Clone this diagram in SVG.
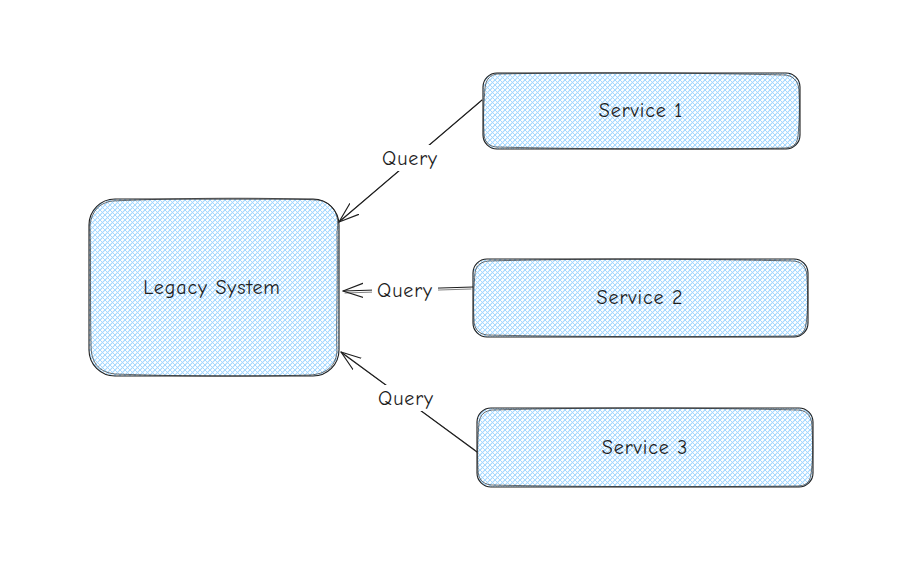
<svg xmlns="http://www.w3.org/2000/svg" width="899" height="568" viewBox="0 0 899 568">
<defs>
<pattern id="hatch" patternUnits="userSpaceOnUse" width="5" height="5">
<path d="M-1,1 L1,-1 M0,5 L5,0 M4,6 L6,4" stroke="#a5d8ff" stroke-width="1.2"/>
<path d="M-1,4 L1,6 M0,0 L5,5 M4,-1 L6,1" stroke="#a5d8ff" stroke-width="1"/>
</pattern>
<marker id="arrow" viewBox="0 0 22 20" refX="20" refY="10" markerWidth="22" markerHeight="20" markerUnits="userSpaceOnUse" orient="auto">
<path d="M0,3 L20,10 L0,17" fill="none" stroke="#1e1e1e" stroke-width="1.2" stroke-linecap="round" stroke-linejoin="round"/>
</marker>
<style>
.fill{fill:url(#hatch);stroke:none}
.out{fill:none;stroke:#1e1e1e;stroke-width:1.1;stroke-linecap:round}
.out2{fill:none;stroke:#1e1e1e;stroke-width:0.8;opacity:0.8}
.lbl{font-family:"Comic Neue","Noto Sans","DejaVu Sans",sans-serif;font-size:20px;letter-spacing:0.9px;fill:#1e1e1e;text-anchor:middle;dominant-baseline:central}
.conn{fill:none;stroke:#1e1e1e;stroke-width:1.1;stroke-linecap:round}
.conn2{fill:none;stroke:#1e1e1e;stroke-width:0.8;opacity:0.7;stroke-linecap:round}
.bg{fill:#ffffff}
</style>
</defs>
<rect width="899" height="568" fill="#ffffff"/>

<g id="connectors">
<g id="c1">
<line class="conn" x1="482" y1="100" x2="339" y2="222" marker-end="url(#arrow)"/>
<line class="conn2" x1="480" y1="102" x2="341" y2="220"/>
</g>
<g id="c2">
<line class="conn" x1="473" y1="287" x2="343" y2="291" marker-end="url(#arrow)"/>
<line class="conn2" x1="471" y1="289" x2="345" y2="293"/>
</g>
<g id="c3">
<line class="conn" x1="477" y1="452" x2="341" y2="352" marker-end="url(#arrow)"/>
<line class="conn2" x1="475" y1="450" x2="343" y2="354"/>
</g>
<rect class="bg" x="376" y="145" width="68" height="26"/>
<text class="lbl" x="410" y="158">Query</text>
<rect class="bg" x="372" y="277" width="66" height="26"/>
<text class="lbl" x="405" y="290">Query</text>
<rect class="bg" x="372" y="385" width="68" height="26"/>
<text class="lbl" x="406" y="398">Query</text>
</g>

<g id="legacy">
<rect class="fill" x="89" y="199" width="250" height="177" rx="26"/>
<rect class="out" x="89" y="199" width="250" height="177" rx="26"/>
<path class="out2" d="M112,201 C180,198 260,197 318,200 C334,203 340,215 337,232 C338,280 336,330 337,352 C335,368 325,374 310,375 C240,377 170,376 115,374 C98,372 91,362 91,345 C90,300 91,260 90,225 C92,210 100,203 112,201 Z"/>
<text class="lbl" x="212" y="287">Legacy System</text>
</g>

<g id="service1">
<rect class="fill" x="483" y="73" width="317" height="76" rx="14"/>
<rect class="out" x="483" y="73" width="317" height="76" rx="14"/>
<path class="out2" d="M497,74 C600,72 700,73 786,75 C796,77 799,84 799,92 C800,110 799,125 798,136 C797,145 792,148 784,148 C700,150 580,149 496,147 C488,146 484,141 484,133 C483,115 484,100 485,88 C486,79 490,75 497,74 Z"/>
<text class="lbl" x="641" y="110">Service 1</text>
</g>

<g id="service2">
<rect class="fill" x="473" y="259" width="335" height="78" rx="14"/>
<rect class="out" x="473" y="259" width="335" height="78" rx="14"/>
<path class="out2" d="M488,261 C600,258 710,259 794,261 C804,262 807,270 807,278 C808,295 808,312 806,324 C805,333 800,336 792,336 C700,337 580,337 487,335 C478,334 474,328 474,320 C473,300 474,285 475,273 C476,265 481,262 488,261 Z"/>
<text class="lbl" x="640" y="297">Service 2</text>
</g>

<g id="service3">
<rect class="fill" x="477" y="408" width="336" height="79" rx="14"/>
<rect class="out" x="477" y="408" width="336" height="79" rx="14"/>
<path class="out2" d="M492,410 C600,407 710,408 799,410 C809,411 812,419 812,427 C813,445 813,461 811,474 C810,483 805,486 797,486 C700,487 580,487 491,485 C482,484 478,478 478,470 C477,450 478,435 479,423 C480,414 485,411 492,410 Z"/>
<text class="lbl" x="645" y="447">Service 3</text>
</g>
</svg>
